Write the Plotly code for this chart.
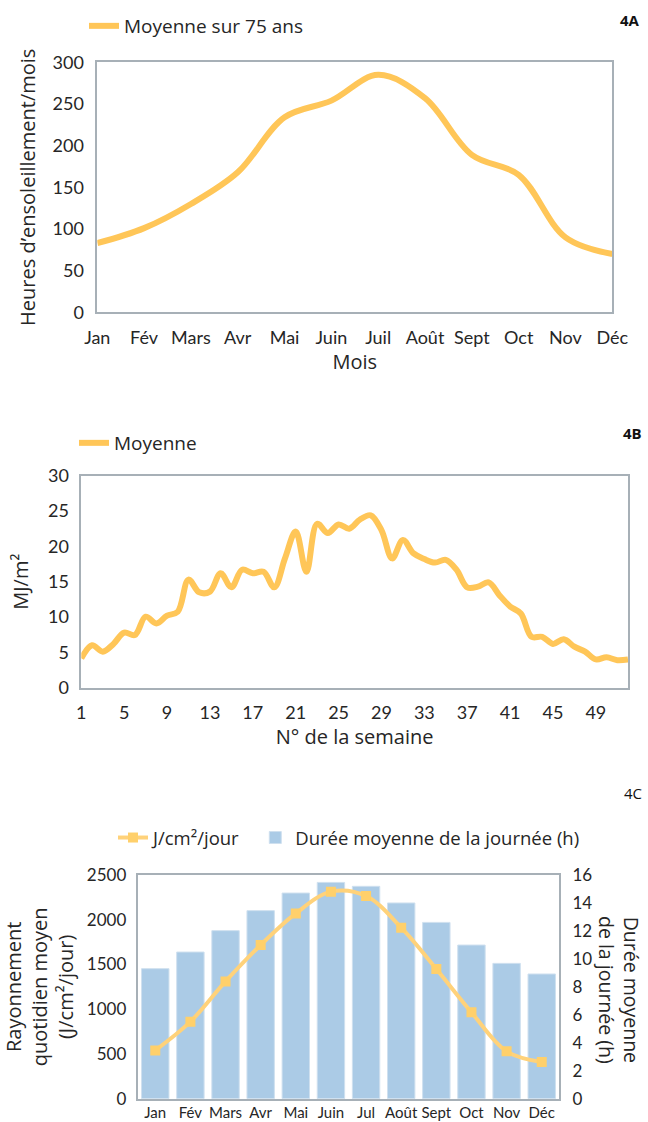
import plotly.graph_objects as go

W, H = 648, 1122

# 4A - heures d'ensoleillement par mois (moyenne sur 75 ans)
mois_a = ['Jan', 'Fév', 'Mars', 'Avr', 'Mai', 'Juin', 'Juil', 'Août', 'Sept', 'Oct', 'Nov', 'Déc']
ensoleillement = [83, 101, 130, 168, 234, 254, 285, 257, 189, 165, 90, 70]

# 4B - rayonnement hebdomadaire moyen (MJ/m2)
semaines = list(range(1, 53))
mj_m2 = [4.15, 6.0, 5.1, 6.2, 7.8, 7.45, 10.05, 9.1, 10.2, 10.75,
         15.3, 13.5, 13.6, 16.2, 14.2, 16.7, 16.2, 16.4, 14.2, 18.3,
         22.1, 16.4, 23.2, 21.9, 23.1, 22.5, 23.8, 24.4, 22.3, 18.3,
         20.9, 19.0, 18.2, 17.7, 18.1, 16.7, 14.2, 14.3, 14.9, 13.1,
         11.5, 10.5, 7.2, 7.2, 6.2, 6.85, 5.8, 5.1, 4.0, 4.3,
         3.9, 4.0]
semaine_ticks = [1, 5, 9, 13, 17, 21, 25, 29, 33, 37, 41, 45, 49]

# 4C - rayonnement quotidien et duree du jour
mois_c = ['Jan', 'Fév', 'Mars', 'Avr', 'Mai', 'Juin', 'Jul', 'Août', 'Sept', 'Oct', 'Nov', 'Déc']
rayonnement = [540, 861, 1311, 1718, 2071, 2314, 2265, 1911, 1449, 965, 529, 410]
duree_jour = [9.30, 10.49, 12.02, 13.45, 14.71, 15.47, 15.19, 14.00, 12.61, 10.99, 9.68, 8.92]

ORANGE = '#FFC658'
TXT = '#262626'
BOX = '#A7B0B7'
TICKFONT = dict(family='Lato', size=18, color=TXT)
TITLEFONT = dict(family='Open Sans', size=20, color=TXT)


def px_x(a, b):
    return [a / W, b / W]


def px_y(top, bottom):
    return [1 - bottom / H, 1 - top / H]


fig = go.Figure()

fig.add_trace(go.Scatter(x=mois_a, y=ensoleillement, mode='lines',
                         line=dict(color=ORANGE, width=6, shape='spline'),
                         name='Moyenne sur 75 ans', xaxis='x', yaxis='y',
                         legend='legend', showlegend=True))

fig.add_trace(go.Scatter(x=semaines, y=mj_m2, mode='lines',
                         line=dict(color=ORANGE, width=6, shape='spline'),
                         name='Moyenne', xaxis='x2', yaxis='y2',
                         legend='legend2', showlegend=True))

# line first so it comes first in the legend; its axis overlays the bar axis
fig.add_trace(go.Scatter(x=mois_c, y=rayonnement, mode='lines+markers',
                         line=dict(color='#FFD27A', width=4, shape='spline'),
                         marker=dict(symbol='square', size=10, color='#FFD06B'),
                         name='J/cm²/jour\u00a0\u00a0', xaxis='x3', yaxis='y4',
                         legend='legend3', showlegend=True))
fig.add_trace(go.Bar(x=mois_c, y=duree_jour,
                     marker=dict(color='#ABCBE6', line=dict(color='#CFE0EF', width=1)),
                     name='Durée moyenne de la journée (h)', xaxis='x3', yaxis='y3',
                     legend='legend3', showlegend=True))

box = dict(showline=True, linecolor=BOX, linewidth=1.5, mirror=True,
           showgrid=False, zeroline=False, tickfont=TICKFONT, automargin=False,
           ticks='outside', tickcolor='rgba(0,0,0,0)')

legend_common = dict(xanchor='left', yanchor='middle', bgcolor='rgba(0,0,0,0)',
                     visible=True)

corner = dict(xref='paper', yref='paper', xanchor='center', yanchor='middle',
              showarrow=False, font=dict(family='Open Sans', size=15, color='#111'))

fig.update_layout(
    width=W, height=H,
    margin=dict(l=0, r=0, t=0, b=0),
    paper_bgcolor='white', plot_bgcolor='white',
    font=dict(family='Open Sans', color=TXT),
    showlegend=True,
    bargap=0.22,
    xaxis=dict(box, domain=px_x(97.3, 612.3), type='category', range=[0, 11],
               ticklen=8, tickangle=0,
               title=dict(text='Mois', font=TITLEFONT, standoff=6)),
    yaxis=dict(box, domain=px_y(62.3, 312.3), range=[0, 300], dtick=50, ticklen=8,
               title=dict(text='Heures d’ensoleillement/mois', font=TITLEFONT, standoff=12)),
    xaxis2=dict(box, domain=px_x(81.3, 628), range=[1, 52], tickvals=semaine_ticks,
                ticklen=8, anchor='y2', tickangle=0,
                title=dict(text='N° de la semaine', font=TITLEFONT, standoff=6)),
    yaxis2=dict(box, domain=px_y(475.7, 687.7), range=[0, 30], dtick=5, ticklen=7,
                anchor='x2', title=dict(text='MJ/m²', font=TITLEFONT, standoff=14)),
    xaxis3=dict(box, domain=px_x(137.7, 559.3), type='category', range=[-0.5, 11.5],
                ticks='', anchor='y3', tickangle=0, tickfont=dict(TICKFONT, size=15)),
    yaxis3=dict(box, domain=px_y(875, 1098.7), range=[0, 16], dtick=2, ticklen=8,
                anchor='x3', side='right', tickfont=dict(TICKFONT, size=17)),
    yaxis4=dict(showgrid=False, zeroline=False, range=[0, 2500], dtick=500,
                overlaying='y3', anchor='x3', side='left', ticks='outside',
                tickcolor='rgba(0,0,0,0)', ticklen=7, automargin=False,
                tickfont=dict(TICKFONT, size=17),
                title=dict(text='Rayonnement<br>quotidien moyen<br>(J/cm²/jour)',
                           font=TITLEFONT, standoff=8)),
    legend=dict(legend_common, x=84 / W, y=1 - 26 / H,
                font=dict(family='Open Sans', size=19, color=TXT)),
    legend2=dict(legend_common, x=74 / W, y=1 - 443 / H,
                 font=dict(family='Open Sans', size=19, color=TXT)),
    legend3=dict(legend_common, x=113 / W, y=1 - 838 / H, orientation='h',
                 font=dict(family='Open Sans', size=18.5, color=TXT)),
    annotations=[
        dict(corner, text='<b>4A</b>', x=630 / W, y=1 - 20 / H),
        dict(corner, text='<b>4B</b>', x=632 / W, y=1 - 433 / H),
        dict(corner, text='4C', x=633 / W, y=1 - 793 / H),
        dict(text='Durée moyenne<br>de la journée (h)', textangle=90,
             x=619 / W, y=1 - 990 / H, xref='paper', yref='paper',
             xanchor='center', yanchor='middle',
             showarrow=False, font=dict(TITLEFONT, size=19.5)),
    ],
)

# the page body has an 8px default margin; drop it so the figure sits at 0,0
fig.write_html('out.html', config={'displayModeBar': False},
               post_script="document.body.style.margin = '0';")
